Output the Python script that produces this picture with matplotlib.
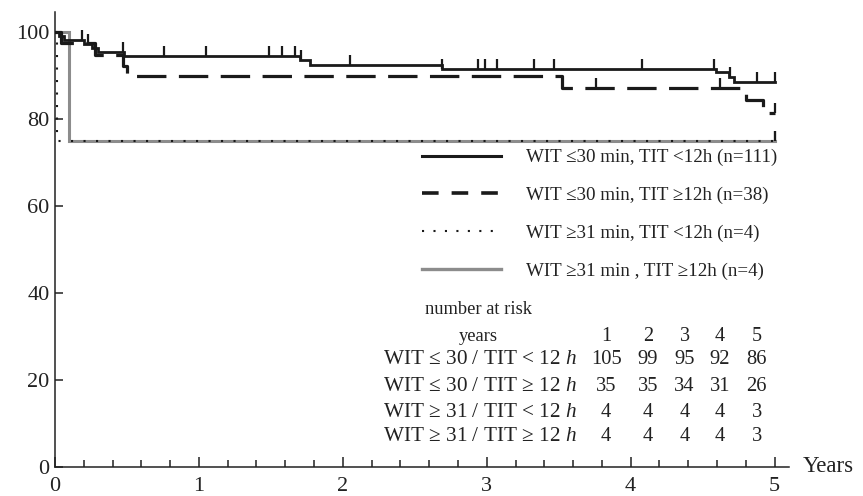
import numpy as np
import matplotlib
matplotlib.use('Agg')
from matplotlib import pyplot as plt
from matplotlib.lines import Line2D

plt.rcParams['font.family'] = ['Liberation Serif', 'DejaVu Serif']
plt.rcParams['mathtext.fontset'] = 'custom'
plt.rcParams['mathtext.rm'] = 'Liberation Serif'
plt.rcParams['mathtext.it'] = 'Liberation Serif:italic'

# Kaplan-Meier steps (years, % surviving)
solid_t = [0, 0.03, 0.06, 0.20, 0.26, 0.30, 0.48, 1.70, 1.77, 2.69, 4.59, 4.68, 4.72]
solid_s = [100, 99.1, 98.2, 97.3, 96.4, 95.5, 94.5, 93.5, 92.5, 91.6, 90.7, 89.6, 88.5]
solid_cens = [0.19, 0.23, 0.47, 0.76, 1.05, 1.49, 1.58, 1.67, 1.71, 2.05, 2.69,
              2.94, 2.99, 3.07, 3.33, 3.47, 4.08, 4.58, 4.69, 4.88, 5.0]

dash_t = [0, 0.04, 0.28, 0.47, 0.50, 3.52, 4.80, 4.92]
dash_s = [100, 97.4, 94.8, 92.1, 89.8, 87.1, 84.4, 81.4]
dash_cens = [3.76, 4.62, 5.0]

dot_t = [0, 0.014]
dot_s = [100, 75]
dot_cens = [5.0]

gray_t = [0, 0.10]
gray_s = [100, 75]
gray_cens = [5.0]

t_end = 5.0

labels = ['WIT \u226430 min, TIT <12h (n=111)',
          'WIT \u226430 min, TIT \u226512h (n=38)',
          'WIT \u226531 min, TIT <12h (n=4)',
          'WIT \u226531 min , TIT \u226512h (n=4)']

risk_years = [1, 2, 3, 4, 5]
risk_rows = ['WIT \u2264 30 / TIT < 12 $h$',
             'WIT \u2264 30 / TIT \u2265 12 $h$',
             'WIT \u2265 31 / TIT < 12 $h$',
             'WIT \u2265 31 / TIT \u2265 12 $h$']
risk_counts = [[105, 99, 95, 92, 86],
               [35, 35, 34, 31, 26],
               [4, 4, 4, 4, 3],
               [4, 4, 4, 4, 3]]


def step_xy(t, s):
    x = list(t) + [t_end]
    y = list(s) + [s[-1]]
    return x, y


def surv_at(t, s, times):
    idx = np.searchsorted(np.array(t), np.array(times), side='right') - 1
    return np.array(s)[idx]


fig = plt.figure(figsize=(8.63, 4.96), dpi=100)
ax = fig.add_axes([55 / 863, 1 - 467 / 496, 734 / 863, 455 / 496])

curves = [
    (gray_t, gray_s, gray_cens, dict(color='#8c8c8c', lw=2.2, zorder=2)),
    (dash_t, dash_s, dash_cens, dict(color='#1a1a1a', lw=2.3, dashes=(9.2, 3.9), zorder=3)),
    (solid_t, solid_s, solid_cens, dict(color='#1a1a1a', lw=2.0, zorder=4)),
    (dot_t, dot_s, dot_cens, dict(color='#1a1a1a', lw=1.5, dashes=(1, 5), zorder=5)),
]
for t, s, cens, style in curves:
    x, y = step_xy(t, s)
    ax.step(x, y, where='post', solid_joinstyle='miter', **style)
    ax.plot(cens, surv_at(t, s, cens), linestyle='none', marker=2,
            markersize=7, markeredgewidth=1.6, color=style['color'],
            zorder=style['zorder'])

ax.set_xlim(0, 5.1)
ax.set_ylim(0, 104.6)
ax.set_xticks(range(6))
ax.set_xticks(np.arange(0, 5.01, 0.2), minor=True)
ax.set_yticks(range(0, 101, 20))
ax.tick_params(axis='both', which='both', direction='in', labelsize=16,
               width=1.1, color='#222222', labelcolor='#222222')
ax.tick_params(axis='x', which='major', length=7, pad=7)
ax.tick_params(axis='x', which='minor', length=5)
ax.tick_params(axis='y', which='major', length=6, pad=4)
for side in ['top', 'right']:
    ax.spines[side].set_visible(False)
for side in ['left', 'bottom']:
    ax.spines[side].set_linewidth(1.1)
    ax.spines[side].set_color('#222222')

ax.text(1.018, 0.0, 'Years', transform=ax.transAxes,
        fontsize=16.5, va='center', ha='left', color='#222222')

handles = [
    Line2D([], [], color='#1a1a1a', lw=2.2),
    Line2D([], [], color='#1a1a1a', lw=2.6, dashes=(4.6, 3.6)),
    Line2D([], [], color='#1a1a1a', lw=1.5, dashes=(1, 4.5)),
    Line2D([], [], color='#8c8c8c', lw=2.4),
]
ax.legend(handles, labels, loc='upper left', bbox_to_anchor=(0.5, 0.699),
          frameon=False, fontsize=13.7, handlelength=4.15, handletextpad=1.3,
          labelspacing=1.07, borderpad=0, borderaxespad=0,
          labelcolor='#222222')

# number at risk table
txt = dict(color='#222222', va='center')
ax.text(2.94, 36.1, 'number at risk', fontsize=13.3, ha='center', **txt)
ax.text(2.94, 30.1, 'years', fontsize=13.3, ha='center', **txt)
col_x = [3.83, 4.12, 4.375, 4.62, 4.875]
for yr, cx in zip(risk_years, col_x):
    ax.text(cx, 30.1, str(yr), fontsize=14.5, ha='center', **txt)
row_y = [24.6, 18.6, 12.6, 6.9]
for lab, counts, ry in zip(risk_rows, risk_counts, row_y):
    ax.text(3.625, ry, lab, fontsize=15.3, ha='right', **txt)
    for c, cx in zip(counts, col_x):
        ax.text(cx, ry, str(c), fontsize=14.8, ha='center', **txt)

fig.savefig('out.png', dpi=100)
